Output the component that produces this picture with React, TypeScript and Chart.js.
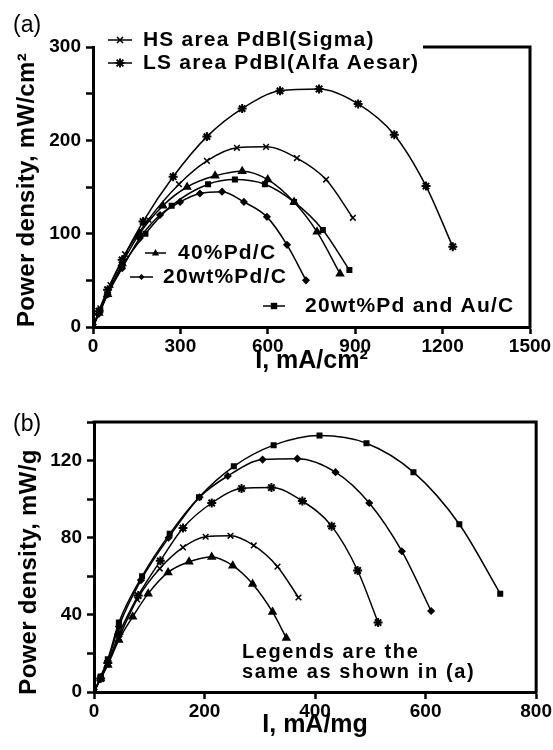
import React, { useEffect, useRef } from 'react';
import { Chart, registerables } from 'chart.js';

Chart.register(...registerables);

const FONT = "'Liberation Sans', Arial, Helvetica, sans-serif";

// ---------- Panel (a): I (mA/cm2) vs power density (mW/cm2) ----------
const aHS_I = [0, 25, 60, 110, 190, 295, 391, 494, 594, 700, 800, 892];
const aHS_P = [0, 20, 45, 78, 115, 153, 178, 192, 193, 181, 158, 117];
const aLS_I = [0, 20, 50, 100, 172, 275, 391, 512, 642, 776, 910, 1034, 1143, 1235];
const aLS_P = [0, 17, 40, 72, 113, 161, 204, 234, 253, 255, 239, 206, 151, 86];
const a40_I = [0, 20, 50, 100, 160, 240, 323, 419, 512, 600, 690, 769, 848];
const a40_P = [0, 15, 35, 68, 100, 130, 150, 162, 167, 158, 134, 102, 57];
const a20_I = [0, 20, 50, 100, 160, 230, 299, 367, 443, 518, 597, 666, 731];
const a20_P = [0, 14, 35, 63, 95, 120, 134, 143, 145, 134, 118, 88, 50];
const aAu_I = [0, 25, 50, 100, 180, 270, 395, 487, 590, 690, 789, 880];
const aAu_P = [0, 18, 35, 65, 100, 130, 153, 158, 153, 134, 104, 61];

// ---------- Panel (b): I (mA/mg) vs power density (mW/g) ----------
const bHS_I = [0, 12, 25, 45, 78, 119, 161, 202, 247, 289, 332, 370];
const bHS_P = [0, 7, 15, 28, 48, 64, 75, 80.5, 81, 76, 65, 49];
const bLS_I = [0, 12, 25, 45, 80, 120, 161, 213, 267, 321, 377, 430, 477, 514];
const bLS_P = [0, 7, 15, 30, 50, 68, 85, 98, 105.5, 106, 99, 86, 63, 36];
const b40_I = [0, 12, 25, 45, 70, 98, 134, 172, 213, 251, 287, 323, 348];
const b40_P = [0, 7, 14, 27, 39, 51, 62, 67.5, 70, 65.5, 56, 41.5, 28];
const b20_I = [0, 12, 25, 45, 85, 135, 191, 242, 305, 368, 437, 498, 557, 610];
const b20_P = [0, 7, 16, 34, 58, 80, 101, 112, 120.5, 121, 114, 98, 73, 42];
const bAu_I = [0, 12, 25, 45, 87, 137, 190, 253, 325, 408, 493, 578, 661, 735];
const bAu_P = [0, 8, 17, 36, 60, 82, 101, 117, 128, 133, 129, 114, 87, 51];

const seriesNames = [
  'HS area PdBl(Sigma)',
  'LS area PdBl(Alfa Aesar)',
  '40%Pd/C',
  '20wt%Pd/C',
  '20wt%Pd and Au/C',
];

const aXTicks = [0, 300, 600, 900, 1200, 1500];
const aYTicks = [0, 100, 200, 300];
const bXTicks = [0, 200, 400, 600, 800];
const bYTicks = [0, 40, 80, 120];

const aXTitle = 'I, mA/cm²';
const aYTitle = 'Power density, mW/cm²';
const bXTitle = 'I, mA/mg';
const bYTitle = 'Power density, mW/g';

const legendNote = ['Legends are the', 'same as shown in (a)'];

type Marker = 'crossRot' | 'star' | 'triangle' | 'rectRot' | 'rect';
const markers: Marker[] = ['crossRot', 'star', 'triangle', 'rectRot', 'rect'];
const radii = [4, 4.5, 4, 3, 3.2];

function zip(xs: number[], ys: number[]) {
  return xs.map((x, i) => ({ x, y: ys[i] }));
}

function makeDatasets(pairs: [number[], number[]][]) {
  return pairs.map(([xs, ys], i) => ({
    label: seriesNames[i],
    data: zip(xs, ys),
    borderColor: '#000',
    backgroundColor: '#000',
    borderWidth: 1.5,
    pointStyle: markers[i],
    pointRadius: radii[i],
    pointBorderWidth: markers[i] === 'star' ? 2 : 1.5,
    pointBorderColor: '#000',
    pointBackgroundColor: '#000',
    cubicInterpolationMode: 'monotone' as const,
    fill: false,
  }));
}

function drawMarker(ctx: CanvasRenderingContext2D, m: Marker, x: number, y: number, r: number) {
  ctx.save();
  ctx.fillStyle = '#000';
  ctx.strokeStyle = '#000';
  ctx.lineWidth = m === 'star' ? 2 : 1.5;
  ctx.beginPath();
  if (m === 'crossRot' || m === 'star') {
    const d = r * 0.75;
    ctx.moveTo(x - d, y - d); ctx.lineTo(x + d, y + d);
    ctx.moveTo(x - d, y + d); ctx.lineTo(x + d, y - d);
    if (m === 'star') { ctx.moveTo(x, y - r); ctx.lineTo(x, y + r); ctx.moveTo(x - r, y); ctx.lineTo(x + r, y); }
    ctx.stroke();
  } else if (m === 'triangle') {
    ctx.moveTo(x, y - r); ctx.lineTo(x + r * 0.9, y + r * 0.6); ctx.lineTo(x - r * 0.9, y + r * 0.6); ctx.closePath(); ctx.fill();
  } else if (m === 'rectRot') {
    ctx.moveTo(x, y - r); ctx.lineTo(x + r, y); ctx.lineTo(x, y + r); ctx.lineTo(x - r, y); ctx.closePath(); ctx.fill();
  } else {
    ctx.rect(x - r, y - r, 2 * r, 2 * r); ctx.fill();
  }
  ctx.restore();
}

function setText(ctx: CanvasRenderingContext2D, size: number, spacing: number) {
  ctx.font = `bold ${size}px ${FONT}`;
  (ctx as any).letterSpacing = `${spacing}px`;
  ctx.fillStyle = '#000';
  ctx.textBaseline = 'middle';
  ctx.textAlign = 'left';
}

function drawYTitle(ctx: CanvasRenderingContext2D, text: string, cx: number, cy: number) {
  ctx.save();
  ctx.translate(cx, cy);
  ctx.rotate(-Math.PI / 2);
  ctx.font = `bold 24px ${FONT}`;
  (ctx as any).letterSpacing = '0.3px';
  ctx.fillStyle = '#000';
  ctx.textAlign = 'center';
  ctx.textBaseline = 'middle';
  ctx.fillText(text, 0, 0);
  ctx.restore();
}

// legend layout for panel (a): [series index, line x0, line x1, y, text x]
const legendA: [number, number, number, number, number][] = [
  [0, 108, 132, 40, 143],
  [1, 108, 132, 63, 143],
  [2, 145, 166, 253, 178],
  [3, 130, 153, 277, 163],
  [4, 263, 285, 306, 305],
];

const pluginA = {
  id: 'panelA',
  afterDraw(chart: any) {
    const { ctx, chartArea } = chart;
    const { top, right, bottom } = chartArea;
    ctx.save();
    ctx.strokeStyle = '#000';
    ctx.lineWidth = 3;
    ctx.beginPath();
    ctx.moveTo(423, top);
    ctx.lineTo(right, top);
    ctx.lineTo(right, bottom + 1.5);
    ctx.stroke();
    legendA.forEach(([i, x0, x1, y, tx]) => {
      ctx.lineWidth = 1.5;
      ctx.beginPath();
      ctx.moveTo(x0, y);
      ctx.lineTo(x1, y);
      ctx.stroke();
      drawMarker(ctx, markers[i], (x0 + x1) / 2, y, radii[i]);
      setText(ctx, 21, 1.2);
      ctx.fillText(seriesNames[i], tx, y);
    });
    drawYTitle(ctx, aYTitle, 27, 190);
    ctx.restore();
  },
};

const pluginB = {
  id: 'panelB',
  afterDraw(chart: any) {
    const { ctx, chartArea } = chart;
    const { left, top, right, bottom } = chartArea;
    ctx.save();
    ctx.strokeStyle = '#000';
    ctx.lineWidth = 3;
    ctx.beginPath();
    ctx.moveTo(left - 1.5, top);
    ctx.lineTo(right, top);
    ctx.lineTo(right, bottom + 1.5);
    ctx.stroke();
    setText(ctx, 20, 1.6);
    ctx.fillText(legendNote[0], 242, 277);
    ctx.fillText(legendNote[1], 242, 297);
    drawYTitle(ctx, bYTitle, 29, 197);
    ctx.restore();
  },
};

function axis(opts: {
  min: number; max: number; step: number; labels: number[]; size: number;
  title: string; titlePad: number; fit: 'w' | 'h'; pad: number;
}) {
  return {
    type: 'linear' as const,
    min: opts.min,
    max: opts.max,
    ticks: {
      stepSize: opts.step,
      autoSkip: false,
      maxRotation: 0,
      padding: opts.pad,
      color: '#000',
      font: { family: FONT, size: 19, weight: 'bold' as const },
      callback: (v: any) => (opts.labels.includes(Number(v)) ? String(v) : ''),
    },
    grid: {
      drawOnChartArea: false,
      drawTicks: true,
      tickLength: 7,
      tickWidth: 2.5,
      tickColor: '#000',
      color: '#000',
    },
    border: { display: true, color: '#000', width: 3 },
    title: {
      display: opts.fit === 'h',
      text: opts.title,
      color: '#000',
      font: { family: FONT, size: 25, weight: 'bold' as const, lineHeight: 1 },
      padding: { top: 0, bottom: opts.titlePad },
    },
    afterFit: (s: any) => {
      if (opts.fit === 'w') s.width = opts.size;
      else s.height = opts.size;
    },
  };
}

function baseOptions(padRight: number, x: any, y: any) {
  return {
    responsive: false,
    animation: false as const,
    layout: { padding: { top: 47, right: padRight, left: 0, bottom: 0 } },
    plugins: { legend: { display: false }, tooltip: { enabled: false }, title: { display: false } },
    scales: { x, y },
  };
}

export default function App() {
  const refA = useRef<HTMLCanvasElement>(null);
  const refB = useRef<HTMLCanvasElement>(null);

  useEffect(() => {
    const chartA = new Chart(refA.current as HTMLCanvasElement, {
      type: 'line',
      data: {
        datasets: makeDatasets([
          [aHS_I, aHS_P], [aLS_I, aLS_P], [a40_I, a40_P], [a20_I, a20_P], [aAu_I, aAu_P],
        ]) as any,
      },
      options: baseOptions(
        23,
        axis({ min: 0, max: 1500, step: 300, labels: aXTicks, size: 48, title: aXTitle, titlePad: 1, fit: 'h', pad: 1 }),
        axis({ min: 0, max: 300, step: 50, labels: aYTicks, size: 93, title: aYTitle, titlePad: 0, fit: 'w', pad: 5 }),
      ) as any,
      plugins: [pluginA],
    });
    const chartB = new Chart(refB.current as HTMLCanvasElement, {
      type: 'line',
      data: {
        datasets: makeDatasets([
          [bHS_I, bHS_P], [bLS_I, bLS_P], [b40_I, b40_P], [b20_I, b20_P], [bAu_I, bAu_P],
        ]) as any,
      },
      options: baseOptions(
        15,
        axis({ min: 0, max: 800, step: 200, labels: bXTicks, size: 58, title: bXTitle, titlePad: 12, fit: 'h', pad: 1 }),
        axis({ min: 0, max: 140, step: 20, labels: bYTicks, size: 94, title: bYTitle, titlePad: 0, fit: 'w', pad: 5 }),
      ) as any,
      plugins: [pluginB],
    });
    return () => {
      chartA.destroy();
      chartB.destroy();
    };
  }, []);

  const label: React.CSSProperties = {
    position: 'absolute',
    left: 13,
    fontFamily: FONT,
    fontSize: 23,
    lineHeight: '24px',
    color: '#000',
  };

  return (
    <div style={{ position: 'absolute', left: 0, top: 0, width: 553, height: 750, background: '#fff' }}>
      <canvas ref={refA} width={553} height={375} style={{ position: 'absolute', left: 0, top: 0, display: 'block' }} />
      <canvas ref={refB} width={553} height={375} style={{ position: 'absolute', left: 0, top: 375, display: 'block' }} />
      <div style={{ ...label, top: 12 }}>(a)</div>
      <div style={{ ...label, top: 411 }}>(b)</div>
    </div>
  );
}
